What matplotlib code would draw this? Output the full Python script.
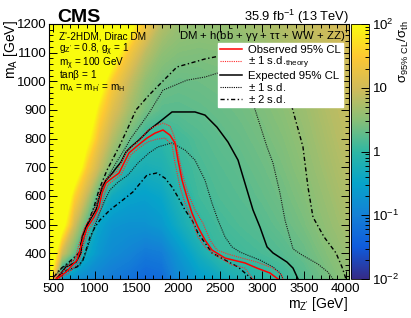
#!/usr/bin/env python
# CMS Z'-2HDM exclusion plot: sigma_95%CL / sigma_th map with limit contours
import numpy as np
import matplotlib
matplotlib.use('Agg')
from matplotlib import pyplot as plt
from matplotlib.colors import LinearSegmentedColormap, LogNorm, Normalize
from matplotlib.cm import ScalarMappable
from matplotlib.lines import Line2D
from matplotlib.ticker import MultipleLocator, LogLocator, NullFormatter

plt.rcParams['font.family'] = 'Liberation Sans'
plt.rcParams['mathtext.fontset'] = 'custom'
plt.rcParams['mathtext.rm'] = 'Liberation Sans'
plt.rcParams['mathtext.it'] = 'Liberation Sans:italic'
plt.rcParams['mathtext.bf'] = 'Liberation Sans:bold'

# ---- heat map: log10(sigma_95%CL / sigma_th)
mzp_grid = [450, 600, 750, 900, 1050, 1200, 1400, 1600, 1800, 2000, 2250, 2500, 2750, 3000, 3250, 3500, 3750, 4050]
ma_grid = [310, 400, 500, 600, 700, 800, 900, 1000, 1100, 1200]
log_ratio = [
    [2.2, -0.6, -0.8, -0.9, -1.0, -1.1, -1.2, -1.35, -1.3, -0.9, -0.6, -0.4, -0.2, -0.08, 0.05, 0.2, 0.37, 0.55],
    [3.0, 1.0, 0.3, -0.4, -0.7, -0.85, -0.95, -1.1, -1.05, -0.7, -0.3, 0.05, 0.1, 0.15, 0.22, 0.32, 0.46, 0.63],
    [4.0, 2.3, 1.0, 0.2, -0.5, -0.7, -0.75, -0.75, -0.65, -0.35, 0.0, 0.12, 0.18, 0.23, 0.31, 0.41, 0.55, 0.72],
    [4.5, 3.0, 1.6, 0.9, 0.1, -0.35, -0.5, -0.55, -0.45, -0.15, 0.1, 0.18, 0.23, 0.29, 0.37, 0.47, 0.61, 0.78],
    [5.0, 4.0, 2.6, 1.5, 0.9, 0.4, -0.15, -0.25, -0.2, 0.0, 0.15, 0.22, 0.27, 0.34, 0.42, 0.53, 0.67, 0.83],
    [6.0, 5.0, 4.0, 2.15, 1.3, 0.8, 0.35, 0.0, -0.05, 0.1, 0.2, 0.27, 0.32, 0.39, 0.47, 0.58, 0.72, 0.88],
    [7.0, 6.0, 5.0, 2.8, 1.7, 1.15, 0.7, 0.4, 0.25, 0.25, 0.28, 0.32, 0.37, 0.44, 0.52, 0.63, 0.77, 0.92],
    [8.0, 7.0, 6.0, 4.0, 2.4, 1.5, 0.95, 0.55, 0.38, 0.33, 0.35, 0.38, 0.42, 0.49, 0.58, 0.69, 0.82, 0.96],
    [8.0, 8.0, 7.0, 5.0, 3.5, 2.4, 1.4, 0.85, 0.55, 0.47, 0.45, 0.47, 0.5, 0.57, 0.66, 0.77, 0.88, 1.0],
    [8.0, 8.0, 8.0, 6.0, 5.0, 3.6, 2.3, 1.35, 0.8, 0.62, 0.58, 0.6, 0.63, 0.71, 0.8, 0.89, 0.96, 1.05],
]

# ---- limit contours (m_Z', m_A) in GeV
obs_x = [534, 653, 785, 845, 905, 988, 1048, 1084, 1132, 1204, 1288, 1347, 1407, 1491, 1563, 1623, 1718, 1814,
         1898, 1958, 1994, 2042, 2101, 2161, 2233, 2317, 2400, 2556, 2795, 2939, 3094, 3190]
obs_y = [310, 334, 376, 436, 488, 526, 561, 610, 645, 662, 680, 715, 750, 771, 788, 802, 819, 830,
         812, 784, 725, 655, 596, 540, 491, 446, 411, 383, 366, 348, 331, 310]

th_up_x = [515, 630, 762, 822, 880, 962, 1022, 1060, 1108, 1180, 1262, 1322, 1383, 1467, 1540, 1623, 1718, 1814,
           1898, 1946, 1994, 2042, 2113, 2197, 2293, 2377, 2460, 2592, 2736, 2939, 3130, 3238, 3250]
th_up_y = [315, 340, 382, 442, 494, 532, 567, 616, 651, 668, 686, 721, 756, 778, 796, 826, 844, 854,
           844, 810, 750, 680, 610, 551, 505, 446, 411, 397, 385, 369, 348, 324, 310]

th_dn_x = [555, 676, 808, 868, 928, 1012, 1072, 1108, 1156, 1228, 1312, 1371, 1431, 1515, 1587, 1647, 1742, 1838,
           1922, 1958, 2018, 2077, 2161, 2233, 2317, 2436, 2640, 2795, 2855, 2891]
th_dn_y = [310, 328, 370, 430, 482, 520, 555, 604, 639, 656, 674, 709, 744, 764, 780, 790, 798, 802,
           778, 715, 631, 575, 516, 457, 422, 394, 359, 348, 324, 310]

exp_x = [546, 653, 773, 833, 845, 893, 953, 1012, 1048, 1084, 1132, 1192, 1252, 1312, 1371, 1431, 1527, 1647,
         1754, 1922, 2197, 2317, 2460, 2592, 2712, 2819, 2891, 2975, 3059, 3130, 3298, 3370, 3430]
exp_y = [313, 352, 369, 401, 457, 491, 523, 551, 593, 631, 655, 673, 697, 718, 753, 771, 795, 830,
         854, 893, 893, 882, 840, 788, 725, 621, 551, 491, 422, 401, 369, 348, 310]

exp_p1_x = [534, 606, 749, 845, 905, 965, 1048, 1132, 1252, 1371, 1431, 1527, 1647, 1814, 2101, 2317, 2472, 2640,
            2795, 2891, 3059, 3130, 3214, 3274, 3370, 3477, 3669, 3788, 3848]
exp_p1_y = [324, 348, 376, 422, 491, 540, 596, 655, 715, 771, 802, 840, 889, 969, 1004, 1015, 1029, 1015,
            980, 924, 771, 715, 610, 516, 415, 394, 362, 334, 310]

exp_m1_x = [570, 653, 821, 881, 941, 1000, 1060, 1120, 1180, 1276, 1395, 1515, 1647, 1754, 1922, 2077, 2197, 2317,
            2400, 2472, 2556, 2640, 2736, 2819, 2975, 3130, 3214, 3250]
exp_m1_y = [313, 334, 359, 394, 446, 498, 544, 586, 621, 648, 673, 715, 750, 771, 785, 760, 725, 655,
            575, 516, 457, 422, 404, 394, 376, 352, 331, 310]

exp_p2_x = [510, 570, 689, 809, 845, 929, 988, 1048, 1144, 1288, 1383, 1491, 1647, 1981, 2317, 2436, 2736, 2999,
            3214, 3358, 3489, 3549, 3609, 3741, 3884, 3956, 4004]
exp_p2_y = [317, 341, 369, 401, 457, 516, 561, 621, 690, 771, 830, 900, 952, 1050, 1078, 1085, 1102, 1067,
            987, 910, 771, 631, 526, 457, 401, 352, 310]

exp_m2_x = [546, 665, 785, 857, 941, 1000, 1060, 1180, 1335, 1455, 1623, 1742, 1838, 1922, 1994, 2077, 2161, 2233,
            2317, 2400, 2556, 2712, 2795, 2879]
exp_m2_y = [313, 341, 352, 376, 457, 491, 516, 551, 586, 614, 673, 680, 662, 631, 596, 551, 516, 470,
            436, 401, 376, 352, 331, 310]

legend_labels = ['Observed 95% CL',
                 r'$\pm$ 1 s.d.$_{\mathrm{theory}}$',
                 'Expected 95% CL',
                 r'$\pm$ 1 s.d.',
                 r'$\pm$ 2 s.d.']

model_lines = ["Z'-2HDM, Dirac DM",
               r"g$_{\mathrm{Z'}}$ = 0.8, g$_{\mathrm{\chi}}$ = 1",
               r"m$_{\mathrm{\chi}}$ = 100 GeV",
               r"tan$\mathrm{\beta}$ = 1",
               r"m$_{\mathrm{A}}$ = m$_{\mathrm{H'}}$ = m$_{\mathrm{H}}$"]

# ROOT kBird palette
bird = LinearSegmentedColormap.from_list('bird', [
    (0.000, (0.2082, 0.1664, 0.5293)),
    (0.125, (0.0592, 0.3599, 0.8684)),
    (0.250, (0.0780, 0.5041, 0.8385)),
    (0.375, (0.0232, 0.6419, 0.7914)),
    (0.500, (0.1802, 0.7178, 0.6425)),
    (0.625, (0.5301, 0.7492, 0.4662)),
    (0.750, (0.8186, 0.7328, 0.3499)),
    (0.875, (0.9956, 0.7862, 0.1968)),
    (1.000, (0.9764, 0.9832, 0.0539))])

fig = plt.figure(figsize=(4.11, 3.18), dpi=100)
ax = fig.add_axes([49/411, 39/318, 300/411, 255/318])
cax = fig.add_axes([351/411, 39/318, 18/411, 255/318])

# map drawn in log10 space, colour bar shown on a log axis
ax.contourf(mzp_grid, ma_grid, np.array(log_ratio), levels=np.linspace(-2, 2, 161),
            norm=Normalize(-2, 2), cmap=bird, extend='both', antialiased=False, zorder=0)

# contours
dashdot = (0, (3, 1.8, 1, 1.8))
ax.plot(exp_p2_x, exp_p2_y, color='black', lw=1.0, ls=dashdot, zorder=3)
ax.plot(exp_m2_x, exp_m2_y, color='black', lw=1.0, ls=dashdot, zorder=3)
ax.plot(exp_p1_x, exp_p1_y, color='#1a1a1a', lw=0.8, ls=(0, (1, 1)), zorder=3)
ax.plot(exp_m1_x, exp_m1_y, color='#1a1a1a', lw=0.8, ls=(0, (1, 1)), zorder=3)
ax.plot(exp_x, exp_y, color='black', lw=1.1, zorder=4)
ax.plot(th_up_x, th_up_y, color='#ff2a2a', lw=0.8, ls=(0, (1, 1)), zorder=5)
ax.plot(th_dn_x, th_dn_y, color='#ff2a2a', lw=0.8, ls=(0, (1, 1)), zorder=5)
ax.plot(obs_x, obs_y, color='red', lw=1.1, zorder=6)

handles = [Line2D([], [], color='red', lw=1.1),
           Line2D([], [], color='#ff2a2a', lw=0.8, ls=(0, (1, 1))),
           Line2D([], [], color='black', lw=1.1),
           Line2D([], [], color='black', lw=0.8, ls=(0, (1, 1))),
           Line2D([], [], color='black', lw=1.0, ls=dashdot)]
leg = ax.legend(handles, legend_labels, loc='upper left', bbox_to_anchor=(0.563, 0.9255),
                borderaxespad=0, borderpad=0.15, fontsize=8.2, frameon=True, fancybox=False,
                framealpha=1, facecolor='white', edgecolor='white', handlelength=2.0,
                handletextpad=0.5, labelspacing=0.0)
leg.set_zorder(10)

ax.set_xlim(450, 4040)
ax.set_ylim(310, 1200)
ax.xaxis.set_major_locator(MultipleLocator(500))
ax.xaxis.set_minor_locator(MultipleLocator(100))
ax.yaxis.set_major_locator(MultipleLocator(100))
ax.yaxis.set_minor_locator(MultipleLocator(20))
ax.tick_params(which='both', direction='in', top=True, right=True, labelsize=9.5, width=0.7)
ax.tick_params(which='major', length=6)
ax.tick_params(which='minor', length=3)
ax.tick_params(axis='x', pad=3)
ax.tick_params(axis='y', pad=1.5)
for s in ax.spines.values():
    s.set_linewidth(0.8)

# colour bar
cb = fig.colorbar(ScalarMappable(norm=LogNorm(vmin=1e-2, vmax=1e2), cmap=bird), cax=cax)
cb.set_ticks([1e-2, 1e-1, 1, 10, 100])
cb.set_ticklabels([r'$10^{-2}$', r'$10^{-1}$', '1', '10', r'$10^{2}$'])
cax.yaxis.set_minor_locator(LogLocator(subs=np.arange(2, 10)))
cax.yaxis.set_minor_formatter(NullFormatter())
cax.tick_params(which='both', direction='in', labelsize=9.5, width=0.7, pad=2.5)
cax.tick_params(which='major', length=6)
cax.tick_params(which='minor', length=3)
cb.outline.set_linewidth(0.6)

# texts
fig.text(403/411, 1 - 20/318, r'$\mathrm{\sigma}_{\mathrm{95\%\ CL}}/\mathrm{\sigma}_{\mathrm{th}}$',
         rotation=90, ha='center', va='top', fontsize=9.5)
fig.text(11/411, 1 - 20/318, r'm$_{\mathrm{A}}$ [GeV]', rotation=90, ha='center', va='top', fontsize=10)
fig.text(348/411, 1 - 308/318, r"m$_{\mathrm{Z'}}$ [GeV]", ha='right', va='baseline', fontsize=10)
fig.text(57/411, 1 - 21.5/318, 'CMS', fontsize=14, fontweight='bold', ha='left', va='baseline')
fig.text(349/411, 1 - 21.5/318, r'35.9 fb$^{-1}$ (13 TeV)', fontsize=9.3, ha='right', va='baseline')

text_baselines = [39.5, 52.5, 66, 78.5, 90]
for line, yb in zip(model_lines, text_baselines):
    fig.text(59/411, 1 - yb/318, line, fontsize=7.2, ha='left', va='baseline', zorder=12)
fig.text(345/411, 1 - 40/318,
         r'DM + h(b$\bar{\mathrm{b}}$ + $\mathrm{\gamma\gamma}$ + $\mathrm{\tau\tau}$ + WW + ZZ)',
         fontsize=8.2, ha='right', va='baseline')

fig.savefig('out.png', dpi=100)
